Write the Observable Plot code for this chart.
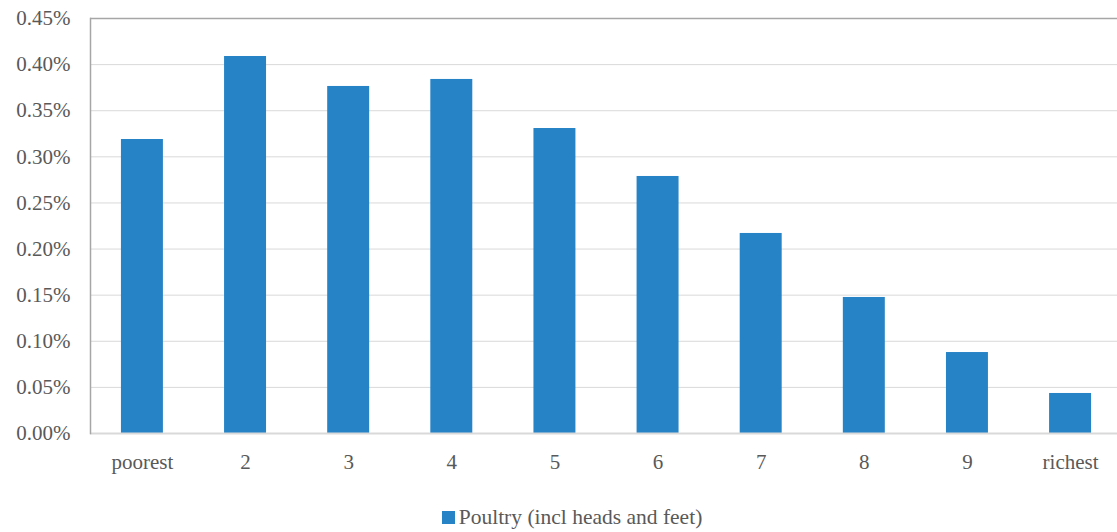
<!DOCTYPE html>
<html>
<head>
<meta charset="utf-8">
<script src="https://cdn.jsdelivr.net/npm/d3@7"></script>
<script src="https://cdn.jsdelivr.net/npm/@observablehq/plot@0.6"></script>
<style>
  body { margin: 0; background: #fff; }
  #chart svg, #chart svg text { font-family: "Liberation Serif", "Times New Roman", Times, "Noto Serif", "DejaVu Serif", Tinos, serif !important; }
  #legend { font-family: "Liberation Serif", "Times New Roman", Times, "Noto Serif", "DejaVu Serif", Tinos, serif; font-size: 21.5px; color: #595959; line-height: 24px;
    display: flex; align-items: center; justify-content: center; margin-top: 15px; padding-left: 27px; }
  #legend .sw { width: 13px; height: 13px; background: #2683C6; margin-right: 4px; display: inline-block; }
</style>
</head>
<body>
<div id="chart"></div>
<script>
const categories = ["poorest", "2", "3", "4", "5", "6", "7", "8", "9", "richest"];
const values = [0.003188, 0.004088, 0.003763, 0.003839, 0.003307, 0.002787, 0.002169, 0.001475, 0.000878, 0.000434];
const yTicks = [0, 0.0005, 0.001, 0.0015, 0.002, 0.0025, 0.003, 0.0035, 0.004, 0.0045];
const seriesName = "Poultry (incl heads and feet)";

const data = categories.map((c, i) => ({category: c, value: values[i]}));

const chart = Plot.plot({
  width: 1117,
  height: 490,
  marginLeft: 90,
  marginRight: 0,
  marginTop: 18,
  marginBottom: 57,
  style: {fontFamily: "'Liberation Serif', 'Times New Roman', serif", fontSize: "21px", color: "#595959", background: "#fff"},
  x: {domain: categories, range: [90, 1122], paddingInner: 0.593, paddingOuter: 0.3, round: false, label: null},
  y: {domain: [0, 0.0045], label: null},
  marks: [
    Plot.gridY(yTicks, {stroke: "#d9d9d9", strokeOpacity: 1, strokeWidth: 1}),
    Plot.axisY(yTicks, {tickSize: 0, tickPadding: 20, tickFormat: d => (d * 100).toFixed(2) + "%", fill: "#595959", label: null}),
    Plot.axisX({tickSize: 0, tickPadding: 21, fill: "#595959", label: null}),
    Plot.barY(data, {x: "category", y: "value", fill: "#2683C6"}),
    Plot.ruleY([0], {stroke: "#d9d9d9", strokeWidth: 2}),
    Plot.ruleY([0.0045], {stroke: "#a6a6a6", strokeWidth: 1.5}),
    Plot.frame({anchor: "left", stroke: "#a6a6a6", strokeWidth: 1.5})
  ]
});
document.getElementById("chart").appendChild(chart);

const legend = document.createElement("div");
legend.id = "legend";
legend.innerHTML = `<span class="sw"></span><span></span>`;
legend.lastChild.textContent = seriesName;
document.body.appendChild(legend);
</script>
</body>
</html>
